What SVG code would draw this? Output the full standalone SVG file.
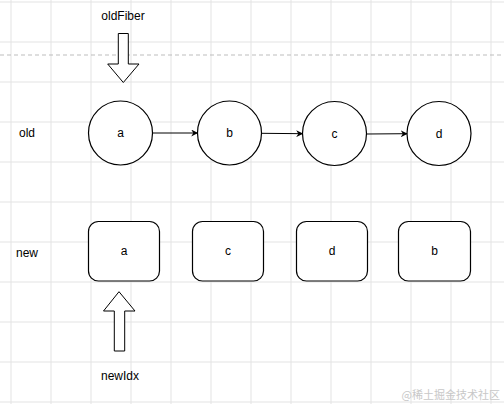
<svg xmlns="http://www.w3.org/2000/svg" width="504" height="404" viewBox="0 0 504 404">
<defs>
<style>
.grid line{stroke:#e3e3e3;stroke-width:1}
.t{font-family:"Liberation Sans",Arial,sans-serif;font-size:12px;fill:#000;text-anchor:middle;dominant-baseline:central}
.n{fill:#fff;stroke:#000;stroke-width:1.2}
.e{stroke:#000;stroke-width:1;fill:none}
.bigarrow{fill:#fff;stroke:#000;stroke-width:1}
</style>
<marker id="ah" viewBox="0 0 10 10" refX="9" refY="5" markerWidth="7" markerHeight="7" orient="auto" markerUnits="userSpaceOnUse">
<path d="M0,0 L10,5 L0,10 L3,5 Z" fill="#000"/>
</marker>
</defs>
<rect width="504" height="404" fill="#fff"/>
<g class="grid">
<line x1="11" y1="0" x2="11" y2="404"/><line x1="51" y1="0" x2="51" y2="404"/><line x1="91" y1="0" x2="91" y2="404"/><line x1="131" y1="0" x2="131" y2="404"/><line x1="171" y1="0" x2="171" y2="404"/><line x1="211" y1="0" x2="211" y2="404"/><line x1="251" y1="0" x2="251" y2="404"/><line x1="291" y1="0" x2="291" y2="404"/><line x1="331" y1="0" x2="331" y2="404"/><line x1="371" y1="0" x2="371" y2="404"/><line x1="411" y1="0" x2="411" y2="404"/><line x1="451" y1="0" x2="451" y2="404"/><line x1="491" y1="0" x2="491" y2="404"/>
<line x1="0" y1="2" x2="504" y2="2"/><line x1="0" y1="42" x2="504" y2="42"/><line x1="0" y1="82" x2="504" y2="82"/><line x1="0" y1="122" x2="504" y2="122"/><line x1="0" y1="162" x2="504" y2="162"/><line x1="0" y1="202" x2="504" y2="202"/><line x1="0" y1="242" x2="504" y2="242"/><line x1="0" y1="282" x2="504" y2="282"/><line x1="0" y1="322" x2="504" y2="322"/><line x1="0" y1="362" x2="504" y2="362"/><line x1="0" y1="402" x2="504" y2="402"/>
</g>
<line x1="0" y1="55" x2="504" y2="55" stroke="#bdbdbd" stroke-width="1" stroke-dasharray="4,3"/>

<g id="oldFiber">
<text class="t" x="123" y="16">oldFiber</text>
<path class="bigarrow" d="M118.3,33.5 L128.3,33.5 L128.3,64 L139,64 L123.3,82.5 L107.7,64 L118.3,64 Z"/>
</g>

<g id="label-old"><text class="t" x="27" y="133">old</text></g>
<g id="label-new"><text class="t" x="27" y="253">new</text></g>

<g id="old-a"><circle class="n" cx="120.5" cy="133" r="32"/><text class="t" x="120.5" y="133">a</text></g>
<g id="old-b"><circle class="n" cx="229.5" cy="133" r="32"/><text class="t" x="229.5" y="133">b</text></g>
<g id="old-c"><circle class="n" cx="334.5" cy="133.5" r="32"/><text class="t" x="334.5" y="133.5">c</text></g>
<g id="old-d"><circle class="n" cx="439" cy="133.5" r="32"/><text class="t" x="439" y="133.5">d</text></g>

<g id="connectors">
<line class="e" x1="152.5" y1="133" x2="197.5" y2="133" marker-end="url(#ah)"/>
<line class="e" x1="261.5" y1="133.3" x2="302.5" y2="133.7" marker-end="url(#ah)"/>
<line class="e" x1="366.5" y1="134" x2="407" y2="133.7" marker-end="url(#ah)"/>
</g>

<g id="new-a"><rect class="n" x="88.5" y="221.5" width="71" height="59.5" rx="10"/><text class="t" x="124" y="251">a</text></g>
<g id="new-c"><rect class="n" x="192.5" y="221.5" width="71" height="59.5" rx="10"/><text class="t" x="228" y="251">c</text></g>
<g id="new-d"><rect class="n" x="296.5" y="221.5" width="71" height="59.5" rx="10"/><text class="t" x="332" y="251">d</text></g>
<g id="new-b"><rect class="n" x="398.5" y="221.5" width="72" height="59.5" rx="10"/><text class="t" x="434.5" y="251">b</text></g>

<g id="newIdx">
<path class="bigarrow" d="M119,291.7 L135,311 L124.7,311 L124.7,351 L114.3,351 L114.3,311 L103.5,311 Z"/>
<text class="t" x="120" y="376">newIdx</text>
</g>

<g id="watermark"><text x="500" y="394" font-family="'Noto Sans CJK SC',sans-serif" font-size="11" fill="#c8c8c8" text-anchor="end" dominant-baseline="central">@稀土掘金技术社区</text></g>
</svg>
